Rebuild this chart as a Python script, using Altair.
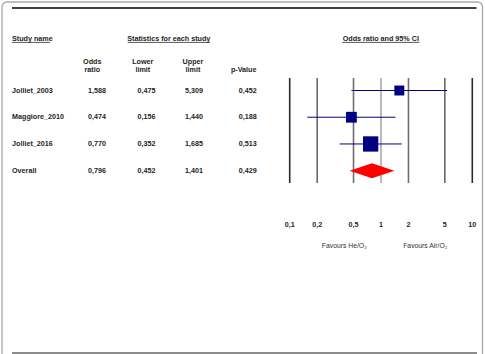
import altair as alt
import pandas as pd

# ---------------- data ----------------
studies = ["Jolliet_2003", "Maggiore_2010", "Jolliet_2016", "Overall"]
odds_ratio = [1.588, 0.474, 0.770, 0.796]
lower_limit = [0.475, 0.156, 0.352, 0.452]
upper_limit = [5.309, 1.440, 1.685, 1.401]
p_value = [0.452, 0.188, 0.513, 0.429]
study_weight = [22.0, 25.9, 52.1]
tick_values = [0.1, 0.2, 0.5, 1, 2, 5, 10]
tick_labels = ["0,1", "0,2", "0,5", "1", "2", "5", "10"]

FONT = "Liberation Sans"
TXT = "#1e1e1e"
NAVY = "#000080"
FS = 7.2

df = pd.DataFrame({
    "study": studies,
    "or": odds_ratio,
    "lo": lower_limit,
    "hi": upper_limit,
    "p": p_value,
    "row": list(range(len(studies))),
    "kind": ["study"] * 3 + ["overall"],
})
df_st = df[df.kind == "study"].copy()
df_st["w"] = study_weight
df_ov = df[df.kind == "overall"]

# diamond polygon for the overall estimate (half height in row units)
HALF = 0.28
ov = df_ov.iloc[0]
diamond = pd.DataFrame({
    "x": [ov["lo"], ov["or"], ov["hi"]],
    "y1": [ov["row"], ov["row"] - HALF, ov["row"]],
    "y2": [ov["row"], ov["row"] + HALF, ov["row"]],
})

ticks = pd.DataFrame({"t": tick_values, "lab": tick_labels})

xscale = alt.Scale(type="log", domain=[0.1, 10], range=[289.7, 472.3])
yscale = alt.Scale(domain=[0, 3], range=[90.5, 170.7], zero=False, nice=False)
Y = alt.Y("row:Q", scale=yscale, axis=None)

one = alt.Data(values=[{"a": 1}])


def label(text, x, y, size=FS, weight="bold", align="center", color=TXT):
    return alt.Chart(one).mark_text(
        text=text, font=FONT, fontSize=size, fontWeight=weight,
        align=align, baseline="middle", color=color,
    ).encode(x=alt.value(x), y=alt.value(y))


def hline(x1, x2, y, color="#444444", width=1.0):
    return alt.Chart(one).mark_rule(color=color, strokeWidth=width).encode(
        x=alt.value(x1), x2=alt.value(x2), y=alt.value(y))


fmt = "replace(format(datum.{}, '.3f'), '.', ',')"
base = alt.Chart(df).transform_calculate(
    or_t=fmt.format("or"), lo_t=fmt.format("lo"),
    hi_t=fmt.format("hi"), p_t=fmt.format("p"),
)


def col(field, x, align="center"):
    return base.mark_text(font=FONT, fontSize=FS, fontWeight="bold", align=align,
                          baseline="middle", color=TXT).encode(
        x=alt.value(x), y=Y, text=f"{field}:N")


# frame and separators
frame = alt.Chart(one).mark_rect(fill=None, stroke="#aaaaaa", strokeWidth=1.3,
                                 cornerRadius=5).encode(
    x=alt.value(2), x2=alt.value(482.5), y=alt.value(2), y2=alt.value(380))
top_line = hline(12, 476.5, 8, color="#000000", width=1.6)
bottom_line = hline(12, 477, 353, color="#8c8c8c", width=2)

headers = [
    label("Study name", 12, 38.5, align="left"),
    hline(12, 50, 42.4, width=0.9),
    label("Statistics for each study", 168.8, 38.5),
    hline(127.7, 210, 42.4, width=0.9),
    label("Odds ratio and 95% CI", 380.8, 38.5),
    hline(342.3, 419.3, 42.4, width=0.9),
    label("Odds", 92.3, 61.7),
    label("ratio", 92.3, 70),
    label("Lower", 142.8, 61.7),
    label("limit", 142.8, 70),
    label("Upper", 193, 61.7),
    label("limit", 193, 70),
    label("p-Value", 243.7, 70),
    label("Favours He/O\u2082", 344.3, 245.7, size=6.8, weight="normal", color="#333333"),
    label("Favours Air/O\u2082", 425.3, 245.7, size=6.8, weight="normal", color="#333333"),
]

columns = [
    col("study", 12, align="left"),
    col("or_t", 97),
    col("lo_t", 146.5),
    col("hi_t", 194),
    col("p_t", 247.7),
]

grid = alt.Chart(ticks).mark_rule(strokeWidth=1.6).encode(
    x=alt.X("t:Q", scale=xscale, axis=None),
    y=alt.value(78), y2=alt.value(183),
    color=alt.Color("t:O", legend=None, scale=alt.Scale(
        domain=tick_values,
        range=["#2a2a2a", "#686868", "#6e6e6e", "#a8a8a8", "#6e6e6e", "#686868", "#2a2a2a"])),
)
tick_text = alt.Chart(ticks).mark_text(font=FONT, fontSize=FS, fontWeight="bold",
                                       baseline="middle", color=TXT).encode(
    x=alt.X("t:Q", scale=xscale, axis=None), y=alt.value(224.8), text="lab:N")

ci = alt.Chart(df_st).mark_rule(color=NAVY, strokeWidth=1).encode(
    x=alt.X("lo:Q", scale=xscale, axis=None), x2="hi:Q", y=Y)
squares = alt.Chart(df_st).mark_square(color=NAVY, opacity=1, filled=True).encode(
    x=alt.X("or:Q", scale=xscale, axis=None), y=Y,
    size=alt.Size("w:Q", legend=None,
                  scale=alt.Scale(type="linear", domain=[0, 100], range=[0, 450])),
)
dia = alt.Chart(diamond).mark_area(color="#ff0000", opacity=1, orient="vertical").encode(
    x=alt.X("x:Q", scale=xscale, axis=None),
    y=alt.Y("y1:Q", scale=yscale, axis=None), y2="y2:Q",
)

chart = alt.layer(
    frame, top_line, bottom_line, *headers, *columns,
    grid, tick_text, ci, squares, dia,
).properties(
    width=485, height=354,
    autosize=alt.AutoSizeParams(type="none"), padding=0,
    background="white",
).configure_view(stroke=None)

chart.save("out.html", embed_options={"renderer": "svg", "actions": False})
